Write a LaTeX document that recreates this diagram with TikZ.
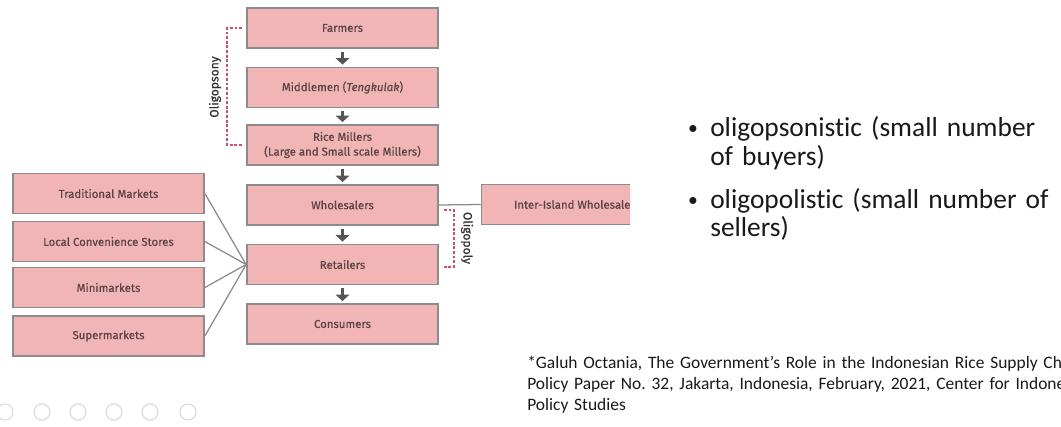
\documentclass[tikz,border=0pt]{standalone}
\usepackage{fontspec}
\setmainfont{Carlito}[Ligatures={NoCommon}]
\newfontfamily\boxfont{Fira Sans}[FakeBold=0.6]
\usetikzlibrary{arrows.meta}
\definecolor{boxpink}{HTML}{F2B5B5}
\definecolor{boxline}{HTML}{8C8C8C}
\definecolor{boxtext}{HTML}{5A4444}
\definecolor{dashred}{HTML}{C8506A}
\definecolor{arrowgray}{HTML}{555555}
\tikzset{
  chainbox/.style={draw=boxline, line width=1.2pt, fill=boxpink, minimum width=4.775cm,
    minimum height=1cm, inner sep=0pt, text=boxtext, align=center,
    font=\boxfont\fontsize{8.1}{10.5}\selectfont},
  flow/.style={-{Triangle[length=4.5pt,width=9.5pt]}, line width=2.8pt, arrowgray,
    shorten <=2pt, shorten >=1.5pt},
  feed/.style={boxline, line width=0.9pt},
  bracket/.style={dashred, line width=0.9pt, dash pattern=on 2pt off 1.3pt},
  marklabel/.style={font=\boxfont\fontsize{8.6}{10}\selectfont, text=black!80},
  bullettext/.style={font=\fontsize{19.5}{20}\selectfont, text=black!90, text width=14cm,
    align=left, inner sep=0pt},
}
\begin{document}
\frenchspacing
\begin{tikzpicture}[x=0.025cm, y=-0.025cm]
    \useasboundingbox[fill=white] (0,0) rectangle (1061,427);
    \clip (0,0) rectangle (1061,427);

    \node[chainbox] (farm) at (342.5,28) {Farmers};
    \node[chainbox] (mid) at (342.5,87.5) {Middlemen (\textit{Tengkulak})};
    \node[chainbox] (rice) at (342.5,145) {Rice Millers\\(Large and Small scale Millers)};
    \node[chainbox] (whole) at (342.5,205) {Wholesalers};
    \node[chainbox] (ret) at (342.5,264.5) {Retailers};
    \node[chainbox] (cons) at (342.5,324) {Consumers};

    \node[chainbox] (trad) at (108.5,193.5) {Traditional Markets};
    \node[chainbox] (local) at (108.5,241.5) {Local Convenience Stores};
    \node[chainbox] (mini) at (108.5,287.5) {Minimarkets};
    \node[chainbox] (super) at (108.5,336) {Supermarkets};

    \begin{scope}
        \clip (0,0) rectangle (630,427);
        \node[chainbox] (inter) at (577,204.5) {Inter-Island Wholesalers};
    \end{scope}

    \foreach \a/\b in {farm/mid,mid/rice,rice/whole,whole/ret,ret/cons}
        \draw[flow] (\a) -- (\b);
    \foreach \n in {trad,local,mini,super}
        \draw[feed] (\n.east) -- (ret.west);
    \draw[feed] (whole.east) -- (inter.west);

    \draw[bracket] ([xshift=-0.1cm]farm.west) -- ++(-15,0) |- ([xshift=-0.1cm]rice.west);
    \node[marklabel, rotate=90] (opsony) at (215,87) {Oligopsony};
    \draw[bracket] ([xshift=0.125cm,yshift=-0.125cm]whole.east) -- ++(10,0)
        |- ([xshift=0.125cm,yshift=-0.0625cm]ret.east);
    \node[marklabel, rotate=-90] (opoly) at (467,238) {Oligopoly};

    \node[font=\fontsize{14}{16}\selectfont, text=black!90, anchor=base] (dot1) at (693,135) {\textbullet};
    \node[bullettext, anchor=base west] (item1) at (710,137) {oligopsonistic (small number\\of buyers)};
    \node[font=\fontsize{14}{16}\selectfont, text=black!90, anchor=base] (dot2) at (693,206) {\textbullet};
    \node[bullettext, anchor=base west] (item2) at (710,208) {oligopolistic (small number of\\sellers)};

    \node[anchor=base west, font=\fontsize{12.4}{15}\selectfont, text=black!90, text width=18cm,
        align=left, inner sep=0pt] (cite) at (527,368)
        {*Galuh Octania, The Government’s Role in the Indonesian Rice Supply Chain,\\Policy Paper No. 32, Jakarta, Indonesia, February, 2021, Center for Indonesian\\Policy Studies};

    \foreach \x in {5,42,78,114,150,188}
        \draw[black!15, line width=0.8pt] (\x,412) circle[radius=0.2cm];
\end{tikzpicture}
\end{document}
